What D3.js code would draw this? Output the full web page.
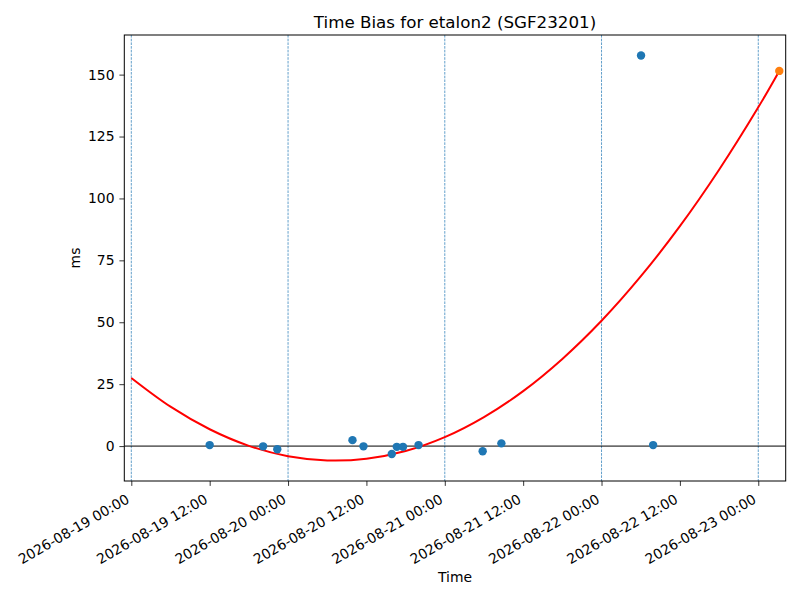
<!DOCTYPE html>
<html lang="en">
<head>
    <meta charset="UTF-8">
    <title>Time Bias for etalon2 (SGF23201)</title>
    <script src="https://d3js.org/d3.v7.min.js"></script>
    <style>
        body { margin: 0; background: #fff; }
        text { font-family: "DejaVu Sans", sans-serif; fill: #000; }
        .day-line { stroke: #1f77b4; stroke-width: 0.7; stroke-dasharray: 2.6, 1.1; }
        .zero-line { stroke: #000; stroke-width: 1; }
        .fit-line { fill: none; stroke: red; stroke-width: 2; }
    </style>
</head>
<body>
    <svg width="800" height="600"></svg>

    <script>
        // Observed time bias (ms) per pass
        const obsTimes = [
            "2026-08-19 12:00", "2026-08-19 20:11", "2026-08-19 22:21",
            "2026-08-20 09:52", "2026-08-20 11:33", "2026-08-20 15:53",
            "2026-08-20 16:39", "2026-08-20 17:36", "2026-08-20 19:59",
            "2026-08-21 05:48", "2026-08-21 08:40", "2026-08-22 06:03",
            "2026-08-22 07:54"
        ];
        const obsValues = [0.4, -0.1, -1.3, 2.4, -0.1, -3.2, -0.3, -0.3, 0.4, -2.1, 1.1, 157.7, 0.4];

        // Predicted point (orange)
        const predTime = "2026-08-23 03:13";
        const predValue = 151.5;

        // Fitted curve
        const fitTimes = [
            "2026-08-19 00:00", "2026-08-19 06:00", "2026-08-19 12:00", "2026-08-19 18:00",
            "2026-08-20 00:00", "2026-08-20 06:00", "2026-08-20 12:00", "2026-08-20 18:00",
            "2026-08-21 00:00", "2026-08-21 06:00", "2026-08-21 12:00", "2026-08-21 18:00",
            "2026-08-22 00:00", "2026-08-22 06:00", "2026-08-22 12:00", "2026-08-22 18:00",
            "2026-08-23 00:00", "2026-08-23 03:13"
        ];
        const fitValues = [27.5, 15.9, 6.8, 0.1, -4.1, -5.8, -5.1, -2.0, 3.6, 11.7, 22.2, 35.2,
                           50.6, 68.5, 88.8, 111.6, 136.8, 151.5];

        // Day boundaries (dashed verticals)
        const dayLines = ["2026-08-19 00:00", "2026-08-20 00:00", "2026-08-21 00:00",
                          "2026-08-22 00:00", "2026-08-23 00:00"];

        const yTicks = [0, 25, 50, 75, 100, 125, 150];

        const parse = d3.utcParse("%Y-%m-%d %H:%M");
        const fmt = d3.utcFormat("%Y-%m-%d %H:%M");

        const svg = d3.select("svg");
        const margin = { top: 35, right: 14.3, bottom: 119, left: 124.3 };
        const width = 800 - margin.left - margin.right;
        const height = 600 - margin.top - margin.bottom;

        const g = svg.append("g").attr("transform", `translate(${margin.left},${margin.top})`);

        const t0 = parse("2026-08-19 00:00");
        const day = 864e5;
        const x = d3.scaleUtc()
            .domain([new Date(+t0 - 0.0447 * day), new Date(+t0 + 4.175 * day)])
            .range([0, width]);
        const y = d3.scaleLinear().domain([-14.1, 166.0]).range([height, 0]);

        // clip
        svg.append("clipPath").attr("id", "clip")
            .append("rect").attr("width", width).attr("height", height);
        const plot = g.append("g").attr("clip-path", "url(#clip)");

        plot.selectAll(".day-line")
            .data(dayLines.map(parse))
            .join("line")
            .attr("class", "day-line")
            .attr("x1", d => x(d)).attr("x2", d => x(d))
            .attr("y1", 0).attr("y2", height);

        plot.append("line")
            .attr("class", "zero-line")
            .attr("x1", 0).attr("x2", width)
            .attr("y1", y(0)).attr("y2", y(0));

        const obs = obsTimes.map((t, i) => ({ time: parse(t), value: obsValues[i] }));
        const fit = fitTimes.map((t, i) => ({ time: parse(t), value: fitValues[i] }));

        const line = d3.line()
            .x(d => x(d.time))
            .y(d => y(d.value))
            .curve(d3.curveCatmullRom.alpha(0.5));

        plot.append("path").datum(fit).attr("class", "fit-line").attr("d", line);

        plot.selectAll(".obs")
            .data(obs)
            .join("circle")
            .attr("class", "obs")
            .attr("cx", d => x(d.time))
            .attr("cy", d => y(d.value))
            .attr("r", 4.2)
            .attr("fill", "#1f77b4");

        g.append("circle")
            .attr("cx", x(parse(predTime)))
            .attr("cy", y(predValue))
            .attr("r", 4.2)
            .attr("fill", "#ff7f0e");

        // Axes
        const xTicks = d3.utcHour.every(12).range(t0, new Date(+t0 + 4 * day + 1));
        const xAxis = g.append("g")
            .attr("transform", `translate(0,${height})`)
            .call(d3.axisBottom(x).tickValues(xTicks).tickSizeOuter(0).tickSize(4.9).tickFormat(""));
        xAxis.selectAll(".tick")
            .append("text")
            .attr("text-anchor", "end")
            .attr("font-size", "13.9px")
            .attr("transform", "translate(-1.5,21) rotate(-30)")
            .text(d => fmt(d));

        const yAxis = g.append("g")
            .call(d3.axisLeft(y).tickValues(yTicks).tickSizeOuter(0).tickSize(4.9).tickPadding(4.9));
        yAxis.selectAll("text").attr("font-size", "13.9px").attr("font-family", "DejaVu Sans");

        g.selectAll(".domain").remove();
        g.selectAll(".tick line").attr("stroke", "#000").attr("stroke-width", 0.8);

        g.append("rect")
            .attr("width", width).attr("height", height)
            .attr("fill", "none").attr("stroke", "#000").attr("stroke-width", 1);

        // Labels
        svg.append("text")
            .attr("x", margin.left + width / 2).attr("y", 28)
            .attr("text-anchor", "middle").attr("font-size", "16.7px")
            .text("Time Bias for etalon2 (SGF23201)");

        svg.append("text")
            .attr("x", margin.left + width / 2).attr("y", 582)
            .attr("text-anchor", "middle").attr("font-size", "13.9px")
            .text("Time");

        svg.append("text")
            .attr("transform", `translate(80,${margin.top + height / 2}) rotate(-90)`)
            .attr("text-anchor", "middle").attr("font-size", "13.9px")
            .text("ms");
    </script>
</body>
</html>
